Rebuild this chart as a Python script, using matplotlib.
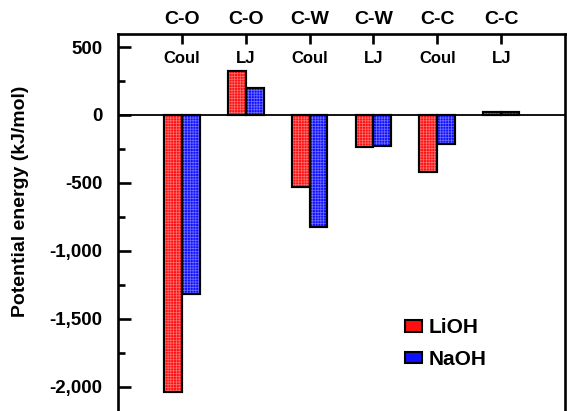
import numpy as np
import matplotlib.pyplot as plt
from matplotlib.ticker import MultipleLocator, FuncFormatter
from matplotlib.patches import Patch

plt.rcParams['font.family'] = 'Liberation Sans'
plt.rcParams['font.weight'] = 'bold'
plt.rcParams['hatch.linewidth'] = 0.5

pairs = ['C-O', 'C-O', 'C-W', 'C-W', 'C-C', 'C-C']
terms = ['Coul', 'LJ', 'Coul', 'LJ', 'Coul', 'LJ']
lioh = [-2040, 324, -530, -235, -420, 24]
naoh = [-1318, 199, -825, -226, -214, 18]

red = '#ff1010'
blue = '#1010ff'

fig = plt.figure()
fig.set_size_inches(5.67, 4.11)
ax = fig.add_axes([118 / 567, 0.0, (565 - 118) / 567, 1 - 34 / 411])

x = np.arange(len(pairs))
w = 0.28
# bars with a fine dotted grid like the original fill
ax.bar(x - w / 2, lioh, w, color=red, edgecolor='black', linewidth=1.5, zorder=3)
ax.bar(x + w / 2, naoh, w, color=blue, edgecolor='black', linewidth=1.5, zorder=3)
ax.bar(x - w / 2, lioh, w, facecolor='none', edgecolor='#ff7070', linewidth=0, hatch='++++++', zorder=4)
ax.bar(x + w / 2, naoh, w, facecolor='none', edgecolor='#7070ff', linewidth=0, hatch='++++++', zorder=4)
ax.bar(x - w / 2, lioh, w, facecolor='none', edgecolor='black', linewidth=1.5, zorder=5)
ax.bar(x + w / 2, naoh, w, facecolor='none', edgecolor='black', linewidth=1.5, zorder=5)

ax.axhline(0, color='black', linewidth=1.3, zorder=2)

ax.set_xlim(-1, 6)
ax.set_ylim(-2180, 596)

ax.spines['bottom'].set_visible(False)
for s in ['left', 'top', 'right']:
    ax.spines[s].set_linewidth(1.9)

ax.xaxis.tick_top()
ax.set_xticks(x)
ax.set_xticklabels(pairs, fontsize=14, fontweight='bold')
ax.tick_params(axis='x', direction='in', length=7, width=1.9, pad=4)

for xi, t in zip(x, terms):
    ax.text(xi, 0.935, t, transform=ax.get_xaxis_transform(), ha='center', va='center',
            fontsize=12, fontweight='bold')

ax.yaxis.set_major_locator(MultipleLocator(500))
ax.yaxis.set_minor_locator(MultipleLocator(250))
ax.yaxis.set_major_formatter(FuncFormatter(lambda v, p: '{:,.0f}'.format(v)))
ax.tick_params(axis='y', which='major', direction='in', length=9, width=1.9, pad=11, labelsize=13.5)
ax.tick_params(axis='y', which='minor', direction='in', length=5, width=1.9)
for lab in ax.get_yticklabels():
    lab.set_fontweight('bold')
ax.set_ylabel('Potential energy (kJ/mol)', fontsize=14, fontweight='bold')
ax.yaxis.set_label_coords(-0.199, 0.556)

handles = [Patch(facecolor=red, edgecolor='black', linewidth=1.5, label='LiOH'),
           Patch(facecolor=blue, edgecolor='black', linewidth=1.5, label='NaOH')]
ax.legend(handles=handles, loc='lower left', bbox_to_anchor=(0.6, 0.062), frameon=False,
          prop={'size': 15, 'weight': 'bold'}, handlelength=0.8, handleheight=0.45,
          handletextpad=0.35, labelspacing=0.6)

plt.savefig('out.png', dpi=100)
plt.close()
